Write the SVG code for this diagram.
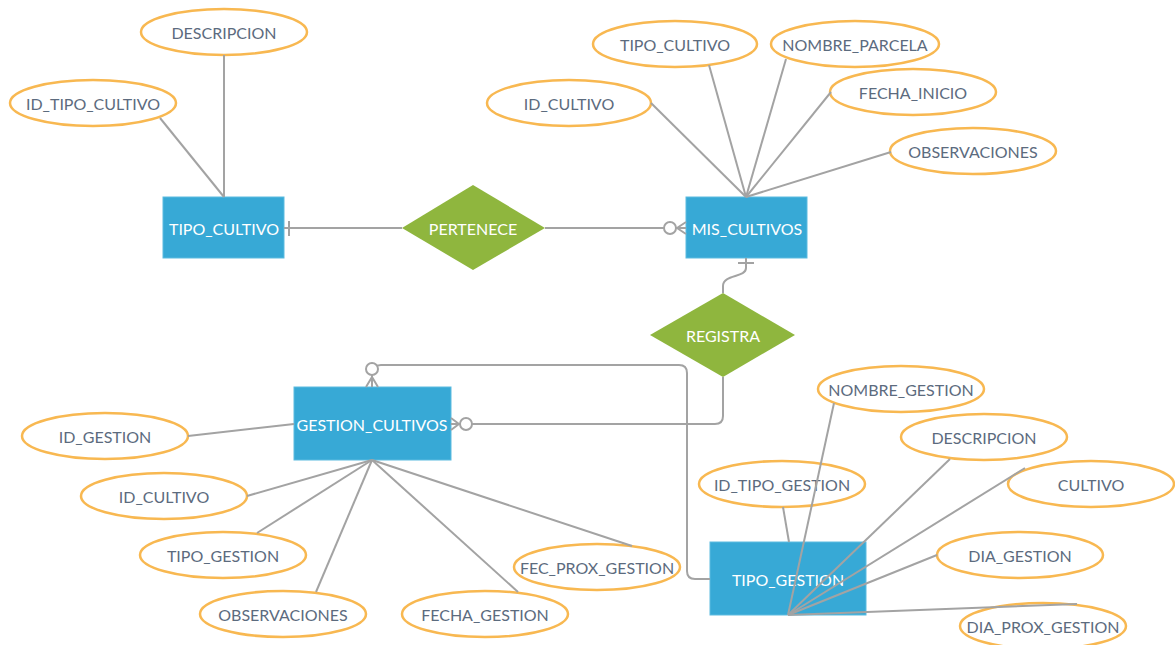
<svg xmlns="http://www.w3.org/2000/svg" width="1175" height="645" viewBox="0 0 1175 645">
  <style>
    .bg { fill: #ffffff; }
    .ent rect { fill: #37A9D6; stroke: #5DBBE0; stroke-width: 1; }
    .ent text, .rel text { fill: #ffffff; font-family: Lato, "Open Sans", sans-serif; font-size: 16px; text-anchor: middle; dominant-baseline: central; }
    .rel polygon { fill: #8FB63E; }
    .att ellipse { fill: #ffffff; stroke: #F8B851; stroke-width: 2.5; }
    .att text { fill: #5C6B7E; font-family: Lato, "Open Sans", sans-serif; font-size: 16px; text-anchor: middle; dominant-baseline: central; }
    .conn path, .conn line { fill: none; stroke: #A3A3A3; stroke-width: 2; }
    .conn circle { fill: #ffffff; stroke: #A3A3A3; stroke-width: 2; }
  </style>
  <rect class="bg" x="0" y="0" width="1175" height="645"/>

  <!-- entities -->
  <g id="tipo_cultivo" class="ent"><rect x="163" y="197" width="121" height="61"/><text x="224" y="228">TIPO_CULTIVO</text></g>
  <g id="mis_cultivos" class="ent"><rect x="686" y="197" width="121" height="61"/><text x="747" y="228">MIS_CULTIVOS</text></g>
  <g id="gestion_cultivos" class="ent"><rect x="294" y="387" width="157" height="73"/><text x="372" y="424">GESTION_CULTIVOS</text></g>
  <g id="tipo_gestion" class="ent"><rect x="710" y="542" width="156" height="73"/><text x="788" y="579">TIPO_GESTION</text></g>

  <!-- relationships -->
  <g id="pertenece" class="rel"><polygon points="402,228 473,185 545,228 473,270"/><text x="473" y="228">PERTENECE</text></g>
  <g id="registra" class="rel"><polygon points="650,335 723,293 795,335 723,377"/><text x="723" y="335">REGISTRA</text></g>

  <!-- attributes -->
  <g id="att_tc_descripcion" class="att"><ellipse cx="224" cy="32" rx="83" ry="23"/><text x="224" y="32">DESCRIPCION</text></g>
  <g id="att_tc_id" class="att"><ellipse cx="93" cy="103" rx="83" ry="23"/><text x="93" y="103">ID_TIPO_CULTIVO</text></g>
  <g id="att_mc_tipo" class="att"><ellipse cx="675" cy="44" rx="82" ry="23"/><text x="675" y="44">TIPO_CULTIVO</text></g>
  <g id="att_mc_parcela" class="att"><ellipse cx="855" cy="44" rx="84" ry="23"/><text x="855" y="44">NOMBRE_PARCELA</text></g>
  <g id="att_mc_id" class="att"><ellipse cx="569" cy="103" rx="82" ry="23"/><text x="569" y="103">ID_CULTIVO</text></g>
  <g id="att_mc_fecha" class="att"><ellipse cx="913" cy="92" rx="83" ry="23"/><text x="913" y="92">FECHA_INICIO</text></g>
  <g id="att_mc_obs" class="att"><ellipse cx="973" cy="151" rx="83" ry="23"/><text x="973" y="151">OBSERVACIONES</text></g>

  <g id="att_gc_id" class="att"><ellipse cx="105" cy="436" rx="83" ry="23"/><text x="105" y="436">ID_GESTION</text></g>
  <g id="att_gc_cultivo" class="att"><ellipse cx="164" cy="496" rx="83" ry="23"/><text x="164" y="496">ID_CULTIVO</text></g>
  <g id="att_gc_tipo" class="att"><ellipse cx="223" cy="555" rx="83" ry="23"/><text x="223" y="555">TIPO_GESTION</text></g>
  <g id="att_gc_obs" class="att"><ellipse cx="283" cy="614" rx="83" ry="23"/><text x="283" y="614">OBSERVACIONES</text></g>
  <g id="att_gc_fecha" class="att"><ellipse cx="485" cy="614" rx="83" ry="23"/><text x="485" y="614">FECHA_GESTION</text></g>
  <g id="att_gc_prox" class="att"><ellipse cx="597" cy="567" rx="83" ry="23"/><text x="597" y="567">FEC_PROX_GESTION</text></g>

  <g id="att_tg_nombre" class="att"><ellipse cx="901" cy="389" rx="83" ry="23"/><text x="901" y="389">NOMBRE_GESTION</text></g>
  <g id="att_tg_descripcion" class="att"><ellipse cx="984" cy="437" rx="83" ry="23"/><text x="984" y="437">DESCRIPCION</text></g>
  <g id="att_tg_cultivo" class="att"><ellipse cx="1091" cy="484" rx="83" ry="23"/><text x="1091" y="484">CULTIVO</text></g>
  <g id="att_tg_id" class="att"><ellipse cx="782" cy="484" rx="83" ry="23"/><text x="782" y="484">ID_TIPO_GESTION</text></g>
  <g id="att_tg_dia" class="att"><ellipse cx="1020" cy="555" rx="83" ry="23"/><text x="1020" y="555">DIA_GESTION</text></g>
  <g id="att_tg_prox" class="att"><ellipse cx="1043" cy="626" rx="83" ry="23"/><text x="1043" y="626">DIA_PROX_GESTION</text></g>

  <!-- connectors, drawn over the shapes -->
  <g id="connectors" class="conn">
    <!-- TIPO_CULTIVO attributes -->
    <line x1="224" y1="55" x2="224" y2="197"/>
    <line x1="160" y1="118" x2="224" y2="197"/>
    <!-- MIS_CULTIVOS attributes -->
    <line x1="651" y1="103" x2="746" y2="197"/>
    <line x1="709" y1="65" x2="746" y2="197"/>
    <line x1="786" y1="59" x2="746" y2="197"/>
    <line x1="831" y1="92" x2="746" y2="197"/>
    <line x1="891" y1="152" x2="746" y2="197"/>
    <!-- TIPO_CULTIVO — PERTENECE — MIS_CULTIVOS -->
    <line x1="284" y1="228" x2="402" y2="228"/>
    <line x1="289" y1="221" x2="289" y2="236"/>
    <line x1="545" y1="228" x2="664" y2="228"/>
    <circle cx="670" cy="228" r="6"/>
    <path d="M676,228 H686 M677,228 L686,222 M677,228 L686,234"/>
    <!-- MIS_CULTIVOS — REGISTRA -->
    <path d="M746,258 V268 C746,278 723,274 723,286 V293"/>
    <line x1="738" y1="263" x2="754" y2="263"/>
    <!-- REGISTRA — GESTION_CULTIVOS -->
    <path d="M723,377 V416 Q723,424 715,424 H472"/>
    <circle cx="466" cy="424" r="6"/>
    <path d="M460,424 H451 M459,424 L451,418 M459,424 L451,430"/>
    <!-- GESTION_CULTIVOS — TIPO_GESTION -->
    <path d="M372,374 Q372,365 381,365 H679 Q687,365 687,373 V571 Q687,579 695,579 H710"/>
    <circle cx="372" cy="369" r="6"/>
    <path d="M372,375 V387 M372,377 L366,387 M372,377 L378,387"/>
    <!-- GESTION_CULTIVOS attributes -->
    <line x1="188" y1="436" x2="294" y2="424"/>
    <line x1="247" y1="496" x2="372" y2="460"/>
    <line x1="257" y1="533" x2="372" y2="460"/>
    <line x1="316" y1="592" x2="372" y2="460"/>
    <line x1="518" y1="592" x2="372" y2="460"/>
    <line x1="632" y1="546" x2="372" y2="460"/>
    <!-- TIPO_GESTION attributes -->
    <line x1="783" y1="507" x2="789" y2="542"/>
    <line x1="834" y1="403" x2="788" y2="615"/>
    <line x1="950" y1="459" x2="788" y2="615"/>
    <line x1="1025" y1="468" x2="788" y2="615"/>
    <line x1="937" y1="555" x2="788" y2="615"/>
    <line x1="1077" y1="604" x2="788" y2="615"/>
  </g>
</svg>
